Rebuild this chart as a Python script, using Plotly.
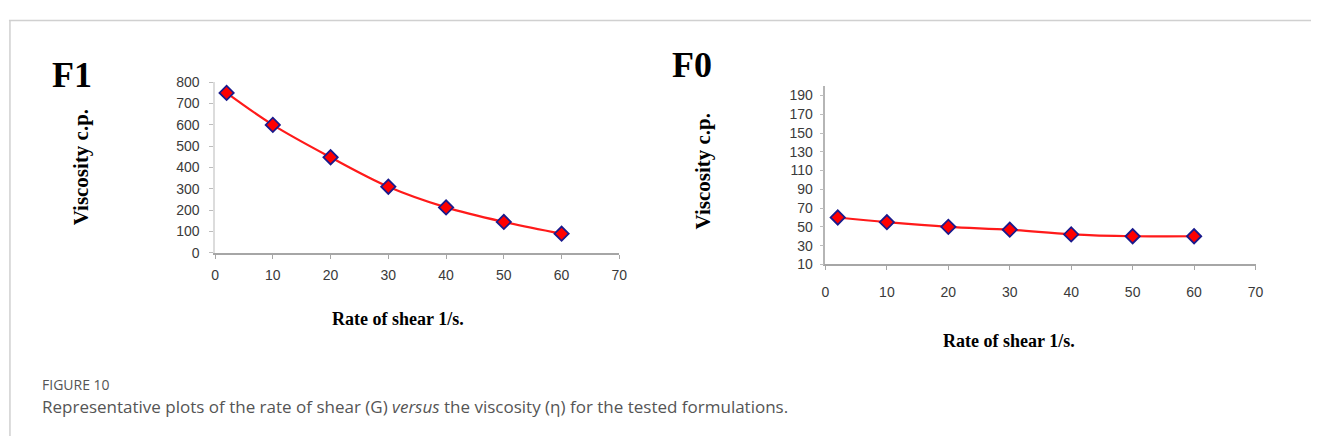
import plotly.graph_objects as go

# Rate of shear (1/s) and measured viscosity (c.p.) for each formulation
shear_rate = [2, 10, 20, 30, 40, 50, 60]
visc_f1 = [750, 600, 448, 310, 213, 145, 90]
visc_f0 = [60, 55, 50, 47, 42, 40, 40]

x_ticks = [0, 10, 20, 30, 40, 50, 60, 70]
f1_y_ticks = [0, 100, 200, 300, 400, 500, 600, 700, 800]
f0_y_ticks = [10, 30, 50, 70, 90, 110, 130, 150, 170, 190]

W, H = 1319, 444


def px(x, y):
    """Convert pixel position to paper coordinates."""
    return x / W, 1 - y / H


fig = go.Figure()

marker = dict(symbol="diamond", size=11, color="#ff0000",
              line=dict(color="#1a1a8c", width=1.8))
line = dict(color="#ff1a1a", width=2.2, shape="spline", smoothing=1.0)

fig.add_trace(go.Scatter(x=shear_rate, y=visc_f1, mode="lines+markers",
                         line=line, marker=marker, xaxis="x", yaxis="y",
                         showlegend=False))
fig.add_trace(go.Scatter(x=shear_rate, y=visc_f0, mode="lines+markers",
                         line=line, marker=marker, xaxis="x2", yaxis="y2",
                         showlegend=False))

tick_font = dict(family="Liberation Sans, Arial", size=14, color="#3a3a3a")

x_common = dict(range=[0, 70], tickvals=x_ticks, showgrid=False, zeroline=False,
                showline=True, linecolor="#a6a6a6", linewidth=1.5,
                ticks="outside", ticklen=4, tickcolor="#a6a6a6",
                tickfont=tick_font, fixedrange=True)
y_common = dict(showgrid=False, zeroline=False, showline=True,
                linewidth=1.5, ticks="outside", ticklen=4,
                tickcolor="#bdbdbd", tickfont=tick_font, fixedrange=True)

x1a, _ = px(213, 0)
x1b, _ = px(621, 0)
_, y1a = px(0, 254)
_, y1b = px(0, 77)
x2a, _ = px(829, 0)
x2b, _ = px(1263, 0)
_, y2a = px(0, 266)
_, y2b = px(0, 81)

fig.update_layout(
    width=W, height=H,
    margin=dict(l=0, r=0, t=0, b=0),
    paper_bgcolor="white", plot_bgcolor="white",
    xaxis=dict(domain=[x1a, x1b], anchor="y", ticklabelstandoff=5, **x_common),
    yaxis=dict(domain=[y1a, y1b], anchor="x", range=[0, 800],
               tickvals=f1_y_ticks, linecolor="#dcdcdc",
               ticklabelstandoff=7, **y_common),
    xaxis2=dict(domain=[x2a, x2b], anchor="y2", ticklabelstandoff=10, **x_common),
    yaxis2=dict(domain=[y2a, y2b], anchor="x2", range=[10, 200],
                tickvals=f0_y_ticks, linecolor="#b5b5b5",
                ticklabelstandoff=4, **y_common),
)

serif_bold = dict(family="Liberation Serif, Times New Roman", color="#000000")


def label(text, x, y, size, angle=0, font=None, xanchor="center"):
    xp, yp = px(x, y)
    f = dict(font or serif_bold)
    f["size"] = size
    fig.add_annotation(text=text, x=xp, y=yp, xref="paper", yref="paper",
                       showarrow=False, textangle=angle, font=f,
                       xanchor=xanchor, yanchor="middle", borderpad=0)


# Panel titles
label("<b>F1</b>", 69, 70, 36)
label("<b>F0</b>", 694, 59, 36)

# Axis titles
label("<b>Viscosity c.p.</b>", 78, 165, 21, angle=-90)
label("<b>Viscosity c.p.</b>", 705, 170, 21, angle=-90)
label("<b>Rate of shear 1/s.</b>", 398, 323, 18)
label("<b>Rate of shear 1/s.</b>", 1014, 345, 18)

# Caption
cap_font = dict(family="Open Sans", color="#555555")
label("FIGURE 10", 37, 391, 14, font=cap_font, xanchor="left")
label("Representative plots of the rate of shear (G) <i>versus</i> the viscosity (η) "
      "for the tested formulations.", 37, 413, 17, font=cap_font, xanchor="left")

# Page frame: top rule and left rule
fig.add_shape(type="line", xref="paper", yref="paper",
              x0=px(5, 0)[0], x1=1, y0=px(0, 13)[1], y1=px(0, 13)[1],
              line=dict(color="#d0d0d0", width=1.5))
fig.add_shape(type="line", xref="paper", yref="paper",
              x0=px(6, 0)[0], x1=px(6, 0)[0], y0=0, y1=px(0, 13)[1],
              line=dict(color="#d0d0d0", width=1.5))

fig.write_html("out.html")
